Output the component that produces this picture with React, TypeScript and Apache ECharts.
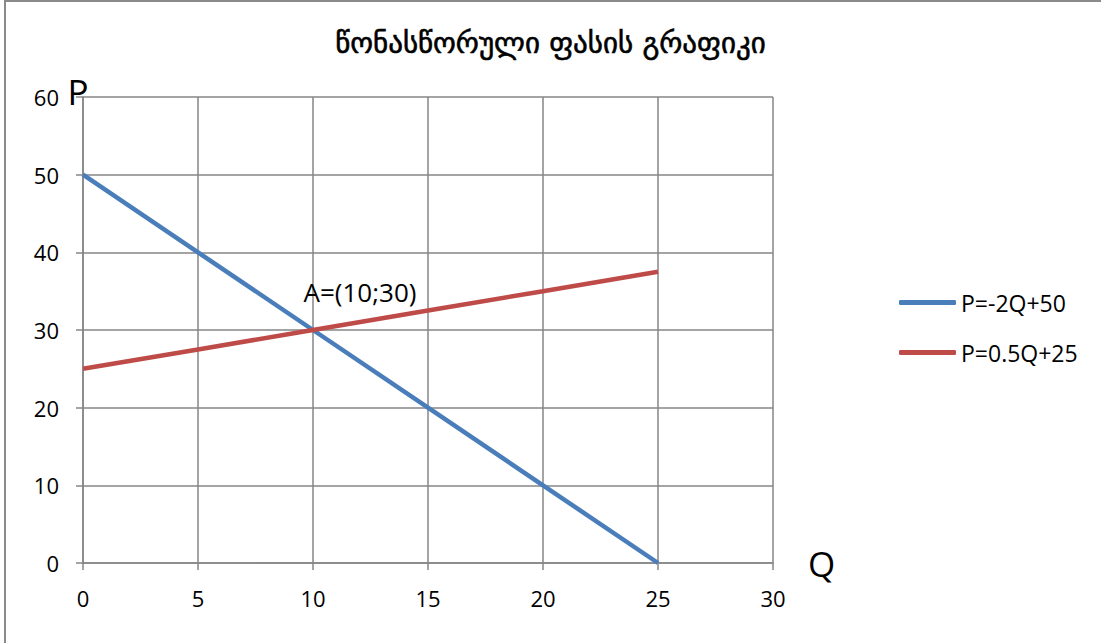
import React, { useEffect, useRef } from "react";
import * as echarts from "echarts";

const titleText = "წონასწორული ფასის გრაფიკი";
const qValues = [0, 5, 10, 15, 20, 25];
const demandName = "P=-2Q+50";
const demandP = [50, 40, 30, 20, 10, 0];
const supplyName = "P=0.5Q+25";
const supplyP = [25, 27.5, 30, 32.5, 35, 37.5];
const equilibrium = [10, 30];
const equilibriumLabel = "A=(10;30)";
const xName = "Q";
const yName = "P";

const GRID = "#868686";
const FONT = "'Open Sans', 'Noto Sans', sans-serif";

export default function App() {
  const ref = useRef<HTMLDivElement>(null);
  useEffect(() => {
    if (!ref.current) return;
    const chart = echarts.init(ref.current, null, { renderer: "svg" });
    const pairs = (ys: number[]) => qValues.map((q, i) => [q, ys[i]]);
    chart.setOption({
      animation: false,
      backgroundColor: "#ffffff",
      title: {
        text: titleText,
        left: "center",
        top: 23,
        textStyle: { fontFamily: "'DejaVu Sans', sans-serif", fontSize: 29, fontWeight: 500, color: "#000", textBorderColor: "#000", textBorderWidth: 0.6 },
      },
      graphic: [
        {
          type: "rect",
          shape: { x: 5, y: 1, width: 1200, height: 800 },
          style: { fill: "none", stroke: "#8a8a8a", lineWidth: 2 },
          silent: true,
        },
      ],
      grid: { left: 83, top: 97, width: 690, height: 466, containLabel: false },
      xAxis: {
        type: "value",
        min: 0,
        max: 30,
        interval: 5,
        name: xName,
        nameLocation: "end",
        nameGap: 35,
        nameTextStyle: { fontFamily: FONT, fontSize: 35, color: "#000", padding: [10, 0, 0, 0] },
        axisLine: { show: true, lineStyle: { color: GRID, width: 1.5 } },
        axisTick: { show: true, length: 7, lineStyle: { color: GRID, width: 1.5 } },
        axisLabel: { margin: 24, fontFamily: FONT, fontSize: 22, color: "#000" },
        splitLine: { show: true, lineStyle: { color: GRID, width: 1.5 } },
      },
      yAxis: {
        type: "value",
        min: 0,
        max: 60,
        interval: 10,
        name: yName,
        nameLocation: "end",
        nameGap: -12,
        nameTextStyle: { fontFamily: FONT, fontSize: 35, color: "#000", align: "center", verticalAlign: "bottom", padding: [0, 10, 0, 0] },
        axisLine: { show: true, lineStyle: { color: GRID, width: 1.5 } },
        axisTick: { show: true, length: 7, lineStyle: { color: GRID, width: 1.5 } },
        axisLabel: { margin: 24, fontFamily: FONT, fontSize: 22, color: "#000" },
        splitLine: { show: true, lineStyle: { color: GRID, width: 1.5 } },
      },
      legend: {
        orient: "vertical",
        left: 894,
        top: 286,
        itemWidth: 57,
        itemHeight: 5,
        itemGap: 27,
        icon: "roundRect",
        textStyle: { fontFamily: FONT, fontSize: 23, color: "#000" },
        data: [demandName, supplyName],
      },
      series: [
        {
          name: demandName,
          type: "line",
          data: pairs(demandP),
          symbol: "none",
          color: "#4a7ebb",
          lineStyle: { width: 4.5, color: "#4a7ebb" },
        },
        {
          name: supplyName,
          type: "line",
          data: pairs(supplyP),
          symbol: "none",
          color: "#be4b48",
          lineStyle: { width: 4.5, color: "#be4b48" },
          markPoint: {
            symbol: "circle",
            symbolSize: 0,
            data: [{ coord: equilibrium }],
            label: {
              show: true,
              formatter: equilibriumLabel,
              offset: [47, -38],
              fontFamily: FONT,
              fontSize: 26,
              color: "#000",
            },
          },
        },
      ],
    });
    return () => chart.dispose();
  }, []);
  return <div ref={ref} style={{ position: "absolute", left: 0, top: 0, width: 1101, height: 643 }} />;
}
